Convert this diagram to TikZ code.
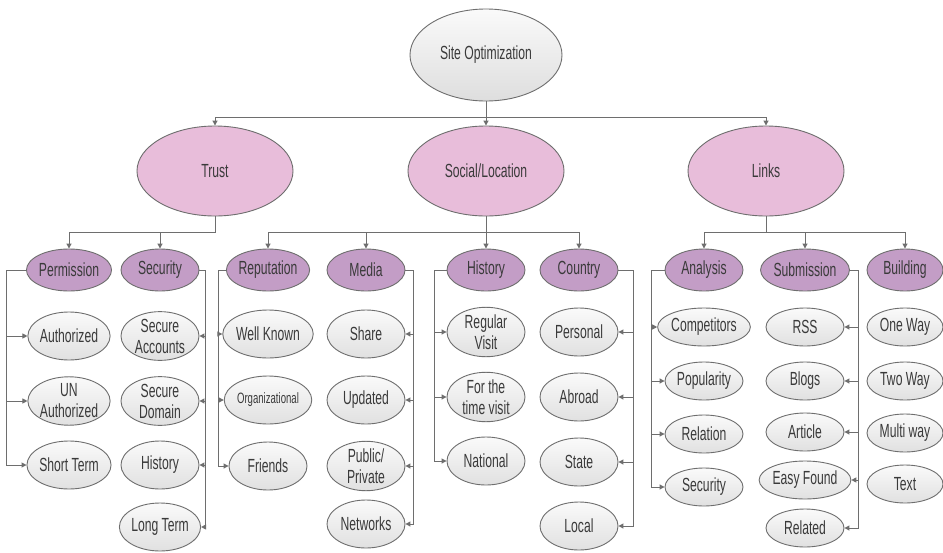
\documentclass[tikz,border=0pt]{standalone}
\usepackage{fontspec}
\setmainfont{Liberation Sans}[FakeStretch=0.64]
\usetikzlibrary{shapes.geometric,arrows.meta}
\definecolor{lineg}{HTML}{6E6E6E}
\definecolor{pinkf}{HTML}{E8BDDA}
\definecolor{purplef}{HTML}{C39DC6}
\definecolor{txtc}{HTML}{3A3A3A}
\tikzset{
  base/.style={ellipse, draw=lineg, line width=0.9pt, inner sep=0pt, align=center,
    text=txtc, font=\fontsize{19}{21}\selectfont},
  rootnode/.style={base, minimum width=152pt, minimum height=92pt,
    top color=white!98!black, bottom color=black!13},
  topic/.style={base, fill=pinkf, minimum width=156pt, minimum height=90pt},
  subtopic/.style={base, fill=purplef, minimum width=78pt, minimum height=42pt},
  leaf/.style={base, minimum width=78pt, minimum height=48pt,
    top color=white!98!black, bottom color=black!12},
  smallleaf/.style={leaf, minimum height=38pt},
  arr/.style={draw=lineg, line width=1pt, -{Triangle[length=5pt,width=5pt]}}
}
\begin{document}
\begin{tikzpicture}[x=1pt,y=-1pt]
\useasboundingbox[fill=white] (0,0) rectangle (943,552);

% bus levels
\coordinate (busA) at (0,117);
\coordinate (busB) at (0,232);

% root and main topics
\node[rootnode] (site) at (486,55) {Site Optimization};
\node[topic] (trust) at (215,171) {Trust};
\node[topic] (social) at (486,171) {Social/Location};
\node[topic] (links) at (766,171) {Links};

% sub topics
\node[subtopic] (perm) at (69,270) {Permission};
\node[subtopic] (secu) at (160,270) {Security};
\node[subtopic] (repu) at (268,270) {Reputation};
\node[subtopic] (media) at (366,270) {Media};
\node[subtopic] (hist) at (486,270) {History};
\node[subtopic] (country) at (579,270) {Country};
\node[subtopic] (analysis) at (704,270) {Analysis};
\node[subtopic] (submission) at (805,270) {Submission};
\node[subtopic, minimum width=76pt] (building) at (905,270) {Building};

% Trust leaves
\node[leaf] (auth) at (69,336) {Authorized};
\node[leaf] (unauth) at (69,401) {UN\\Authorized};
\node[leaf] (shortterm) at (69,465) {Short Term};
\node[leaf] (secacc) at (160,336) {Secure\\Accounts};
\node[leaf] (secdom) at (160,401) {Secure\\Domain};
\node[leaf] (hista) at (160,465) {History};
\node[leaf] (longterm) at (160,527) {Long Term};

% Social/Location leaves
\node[leaf] (wellknown) at (268,334) {Well Known};
\node[leaf, font=\fontsize{15}{17}\selectfont] (organiz) at (268,400) {Organizational};
\node[leaf] (friends) at (268,466) {Friends};
\node[leaf] (share) at (366,334) {Share};
\node[leaf] (updated) at (366,400) {Updated};
\node[leaf] (pubpriv) at (366,466) {Public/\\Private};
\node[leaf] (networks) at (366,524) {Networks};
\node[leaf] (regular) at (486,332) {Regular\\Visit};
\node[leaf] (forthetime) at (486,397) {For the\\time visit};
\node[leaf] (national) at (486,461) {National};
\node[leaf] (personal) at (579,332) {Personal};
\node[leaf] (abroad) at (579,397) {Abroad};
\node[leaf] (state) at (579,462) {State};
\node[leaf] (local) at (579,526) {Local};

% Links leaves
\node[smallleaf] (competitors) at (704,327) {Competitors};
\node[smallleaf] (popularity) at (704,381) {Popularity};
\node[smallleaf] (relation) at (704,434) {Relation};
\node[smallleaf] (securityb) at (704,487) {Security};
\node[smallleaf] (rss) at (805,327) {RSS};
\node[smallleaf] (blogs) at (805,381) {Blogs};
\node[smallleaf] (article) at (805,432) {Article};
\node[smallleaf] (easyfound) at (805,480) {Easy Found};
\node[smallleaf] (related) at (805,528) {Related};
\node[smallleaf, minimum width=76pt] (oneway) at (905,327) {One Way};
\node[smallleaf, minimum width=76pt] (twoway) at (905,381) {Two Way};
\node[smallleaf, minimum width=76pt] (multiway) at (905,433) {Multi way};
\node[smallleaf, minimum width=76pt] (textn) at (905,484) {Text};

% root to main topics
\draw[arr] (site.south) -- (site.south |- busA) -| (trust.north);
\draw[arr] (site.south) -- (site.south |- busA) -| (links.north);
\draw[arr] (site.south) -- (social.north);

% main topics to sub topics
\draw[arr] (trust.south) -- (trust.south |- busB) -| (perm.north);
\draw[arr] (trust.south) -- (trust.south |- busB) -| (secu.north);
\draw[arr] (social.south) -- (social.south |- busB) -| (repu.north);
\draw[arr] (social.south) -- (social.south |- busB) -| (media.north);
\draw[arr] (social.south) -- (hist.north);
\draw[arr] (social.south) -- (social.south |- busB) -| (country.north);
\draw[arr] (links.south) -- (links.south |- busB) -| (analysis.north);
\draw[arr] (links.south) -- (links.south |- busB) -| (submission.north);
\draw[arr] (links.south) -- (links.south |- busB) -| (building.north);

% sub topics to leaves (left-side rails)
\foreach \t in {auth,unauth,shortterm}
  \draw[arr] (perm.west) -- ++(-20,0) |- (\t.west);
\foreach \t in {wellknown,organiz,friends}
  \draw[arr] (repu.west) -- ++(-7,0) |- (\t.west);
\foreach \t in {regular,forthetime,national}
  \draw[arr] (hist.west) -- ++(-12,0) |- (\t.west);
\foreach \t in {competitors,popularity,relation,securityb}
  \draw[arr] (analysis.west) -- ++(-13,0) |- (\t.west);

% sub topics to leaves (right-side rails)
\foreach \t in {secacc,secdom,hista,longterm}
  \draw[arr] (secu.east) -- ++(6,0) |- (\t.east);
\foreach \t in {share,updated,pubpriv,networks}
  \draw[arr] (media.east) -- ++(8,0) |- (\t.east);
\foreach \t in {personal,abroad,state,local}
  \draw[arr] (country.east) -- ++(15,0) |- (\t.east);
\foreach \t in {rss,blogs,article,easyfound,related}
  \draw[arr] (submission.east) -- ++(9,0) |- (\t.east);
\end{tikzpicture}
\end{document}
